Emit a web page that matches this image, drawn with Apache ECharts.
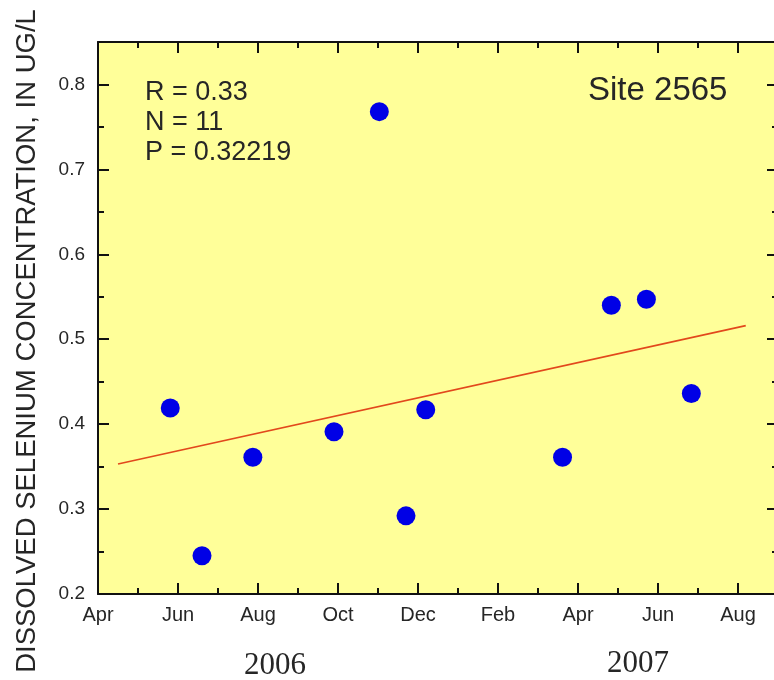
<!DOCTYPE html>
<html>
<head>
<meta charset="utf-8">
<script src="https://cdn.jsdelivr.net/npm/echarts@6/dist/echarts.min.js"></script>
<style>
html,body{margin:0;padding:0;background:#ffffff;}
#chart{width:774px;height:680px;}
</style>
</head>
<body>
<div id="chart"></div>
<script>
// ---- data ----
const sampleDates = ['2006-05-26','2006-06-19','2006-07-28','2006-09-28','2006-11-02','2006-11-22','2006-12-07','2007-03-20','2007-04-26','2007-05-23','2007-06-26'];
const selenium   = [0.419, 0.245, 0.361, 0.391, 0.768, 0.292, 0.417, 0.361, 0.540, 0.547, 0.436];
const trendDates  = ['2006-04-16','2007-08-07'];
const trendValues = [0.353, 0.516];
const xTickLabels = ['Apr','Jun','Aug','Oct','Dec','Feb','Apr','Jun','Aug'];
const yTickLabels = ['0.2','0.3','0.4','0.5','0.6','0.7','0.8'];
const statsLines  = ['R = 0.33','N = 11','P = 0.32219'];
const siteLabel   = 'Site 2565';
const yearLabels  = ['2006','2007'];
const yTitle      = 'DISSOLVED SELENIUM CONCENTRATION, IN UG/L';

// months elapsed since 1 April 2006 (monthly ticks are evenly spaced)
function monthOffset(s){
  const p = s.split('-').map(Number);
  const dim = new Date(p[0], p[1], 0).getDate();
  return (p[0]-2006)*12 + (p[1]-4) + (p[2]-1)/dim;
}

const X_MIN = 0, X_MAX = 17, Y_MIN = 0.2, Y_MAX = 0.85;
const GRID = {left:98, top:42, width:680, height:552};
const ink = '#262626';
const sans = 'Liberation Sans, Arial, sans-serif';
const MAJOR_LEN = 11, MINOR_LEN = 6;
const tickStyle = {color:'#111', width:2};

// monthly tick positions along the top frame (one per axis step of 1 month)
const topTickMonths = [];
for (let m = X_MIN + 1; m < X_MAX; m += 1) topTickMonths.push(m);

// kind: 'line' (axis line + labels), 'major' (long inward ticks), 'minor' (short inward ticks)
function xAxisDef(far, kind){
  const len = kind === 'major' ? MAJOR_LEN : MINOR_LEN;
  const shift = far ? -GRID.height : (kind === 'line' ? 0 : -len);
  return {
    type:'value', gridIndex:0, position:'bottom', min:X_MIN, max:X_MAX, interval: kind === 'minor' ? 1 : 2,
    offset: shift,
    axisLine:{show: kind === 'line', onZero:false, lineStyle:tickStyle},
    axisTick:{show: kind !== 'line', inside:false, length: len, lineStyle:tickStyle},
    axisLabel:{show: kind === 'line' && !far, margin:11, color:ink, fontFamily:sans, fontSize:20,
      formatter:(v, i)=> xTickLabels[i] !== undefined && Math.abs(v - i*2) < 1e-6 ? xTickLabels[i] : ''},
    splitLine:{show:false}
  };
}
function yAxisDef(far, kind){
  const len = kind === 'major' ? MAJOR_LEN : MINOR_LEN;
  const shift = far ? -GRID.width : (kind === 'line' ? 0 : -len);
  return {
    type:'value', gridIndex:0, position:'left', min:Y_MIN, max:Y_MAX, interval: kind === 'minor' ? 0.05 : 0.1,
    offset: shift,
    axisLine:{show: kind === 'line', onZero:false, lineStyle:tickStyle},
    axisTick:{show: kind !== 'line', inside:false, length: len, lineStyle:tickStyle},
    axisLabel:{show: kind === 'line' && !far, margin:13, color:ink, fontFamily:sans, fontSize:19,
      formatter:(v, i)=> yTickLabels[i] !== undefined ? yTickLabels[i] : ''},
    splitLine:{show:false}
  };
}

const kinds = ['line','major','minor'];
const chart = echarts.init(document.getElementById('chart'), null, {renderer:'canvas'});
chart.setOption({
  animation:false,
  backgroundColor:'#ffffff',
  grid:[Object.assign({show:true, backgroundColor:'#ffff99', borderWidth:0, containLabel:false, outerBoundsMode:'none'}, GRID)],
  xAxis:[].concat(kinds.map(k=>xAxisDef(false,k)), [xAxisDef(true,'line')]),
  yAxis:[].concat(kinds.map(k=>yAxisDef(false,k)), kinds.map(k=>yAxisDef(true,k))),
  series:[
    {
      // inward tick marks hanging from the top frame, placed through the x scale
      type:'custom', xAxisIndex:0, yAxisIndex:0, silent:true, clip:false, z:4,
      data: topTickMonths.map(m=>[m]),
      renderItem:function(params, api){
        const m = api.value(0);
        const p = api.coord([m, Y_MAX]);
        const len = (Math.round(m) % 2 === 0) ? MAJOR_LEN : MINOR_LEN;
        return {type:'line', shape:{x1:p[0], y1:p[1], x2:p[0], y2:p[1] + len}, style:{stroke:'#111', lineWidth:2}};
      }
    },
    {
      type:'line', xAxisIndex:0, yAxisIndex:0, symbol:'none', z:2,
      lineStyle:{color:'#e2481c', width:1.6},
      data: trendDates.map((d,i)=>[monthOffset(d), trendValues[i]])
    },
    {
      type:'scatter', xAxisIndex:0, yAxisIndex:0, symbol:'circle', symbolSize:19, z:3,
      itemStyle:{color:'#0000e6', opacity:1},
      data: sampleDates.map((d,i)=>[monthOffset(d), selenium[i]])
    }
  ],
  graphic:[
    {type:'text', left:145, top:78, style:{text:statsLines.join('\n'), fill:ink, font:'27px '+sans, lineHeight:30}},
    {type:'text', left:588, top:74, style:{text:siteLabel, fill:ink, font:'33px '+sans}},
    {type:'text', x:275, y:666, style:{text:yearLabels[0], fill:ink, font:'31px Liberation Serif, Times New Roman, serif', textAlign:'center', textVerticalAlign:'middle'}},
    {type:'text', x:638, y:664, style:{text:yearLabels[1], fill:ink, font:'31px Liberation Serif, Times New Roman, serif', textAlign:'center', textVerticalAlign:'middle'}},
    {type:'text', x:27, y:341, rotation:Math.PI/2, style:{text:yTitle, fill:ink, font:'27.5px '+sans, textAlign:'center', textVerticalAlign:'middle'}}
  ]
});
</script>
</body>
</html>
